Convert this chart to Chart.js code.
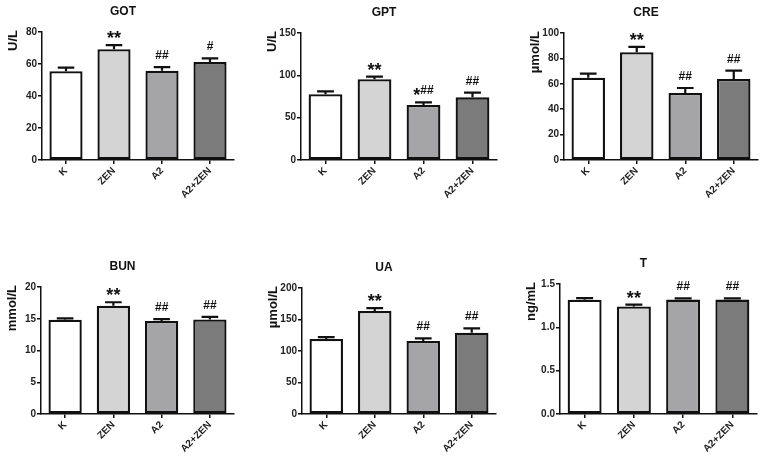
<!DOCTYPE html>
<html>
<head>
<meta charset="utf-8">
<script src="https://cdn.jsdelivr.net/npm/chart.js@4.4.1/dist/chart.umd.min.js"></script>
<style>
  body { margin: 0; background: #fff; width: 764px; height: 461px; position: relative; overflow: hidden; }
  canvas { position: absolute; }
</style>
</head>
<body>
<script>
const groups = ["K", "ZEN", "A2", "A2+ZEN"];

const got = [55.5, 69.2, 55.8, 61.2];
const gotSem = [2.2, 2.6, 2.2, 2.3];
const gotMarks = ["", "**", "##", "#"];

const gpt = [77.6, 95.3, 65, 74];
const gptSem = [3.5, 3.1, 3, 5.5];
const gptMarks = ["", "**", "*##", "##"];

const cre = [64.8, 84.8, 52.8, 63.8];
const creSem = [3.2, 4.3, 3.9, 6.5];
const creMarks = ["", "**", "##", "##"];

const bun = [14.85, 17.05, 14.65, 14.9];
const bunSem = [0.2, 0.55, 0.3, 0.4];
const bunMarks = ["", "**", "##", "##"];

const ua = [119, 163.5, 116, 129];
const uaSem = [3, 4.5, 4, 6.8];
const uaMarks = ["", "**", "##", "##"];

const tst = [1.318, 1.241, 1.32, 1.32];
const tstSem = [0.02, 0.02, 0.015, 0.015];
const tstMarks = ["", "**", "##", "##"];

const fills = ["#ffffff", "#d4d4d4", "#a5a5a8", "#7b7b7b"];

Chart.defaults.font.family = '"Liberation Sans", Arial, sans-serif';
Chart.defaults.font.weight = "bold";
Chart.defaults.color = "#222";

const Y_W = 30;
const X_H = 42;

const panels = [
  { title: "GOT", unit: "U/L", values: got, sem: gotSem, marks: gotMarks, max: 80, step: 20, dec: 0,
    box: [0, 0], area: [42, 234, 32, 160] },
  { title: "GPT", unit: "U/L", values: gpt, sem: gptSem, marks: gptMarks, max: 150, step: 50, dec: 0,
    box: [255, 0], area: [301, 497, 33, 160] },
  { title: "CRE", unit: "µmol/L", values: cre, sem: creSem, marks: creMarks, max: 100, step: 20, dec: 0,
    box: [510, 0], area: [564, 758, 33, 160] },
  { title: "BUN", unit: "mmol/L", values: bun, sem: bunSem, marks: bunMarks, max: 20, step: 5, dec: 0,
    box: [0, 230], area: [41, 234, 287, 414] },
  { title: "UA", unit: "µmol/L", values: ua, sem: uaSem, marks: uaMarks, max: 200, step: 50, dec: 0,
    box: [255, 230], area: [302, 496, 288, 414] },
  { title: "T", unit: "ng/mL", values: tst, sem: tstSem, marks: tstMarks, max: 1.5, step: 0.5, dec: 1,
    box: [510, 230], area: [560, 757, 284, 414] },
];

function drawMark(ctx, text, cx, top) {
  // stars in a bigger font, hashes in a smaller one, centred together
  const parts = text.match(/\*+|#+/g) || [];
  const fonts = parts.map((s) => (s[0] === "*" ? "bold 18px " : "bold 12px ") + Chart.defaults.font.family);
  let total = 0;
  const widths = parts.map((s, i) => {
    ctx.font = fonts[i];
    const w = ctx.measureText(s).width;
    total += w;
    return w;
  });
  let x = cx - total / 2;
  ctx.textAlign = "left";
  ctx.textBaseline = "alphabetic";
  parts.forEach((s, i) => {
    ctx.font = fonts[i];
    ctx.fillText(s, x, s[0] === "*" ? top - 1 : top - 8);
    x += widths[i];
  });
}

function extras(p) {
  return {
    id: "extras",
    afterDraw(chart) {
      const { ctx, chartArea: a, scales } = chart;
      const y = scales.y;
      const meta = chart.getDatasetMeta(0);
      ctx.save();
      ctx.strokeStyle = "#111";
      ctx.fillStyle = "#111";
      ctx.lineWidth = 2.2;
      meta.data.forEach((bar, i) => {
        const base = y.getPixelForValue(p.values[i]);
        const top = y.getPixelForValue(p.values[i] + p.sem[i]);
        const half = bar.width / 4;
        ctx.beginPath();
        ctx.moveTo(bar.x, base);
        ctx.lineTo(bar.x, top);
        ctx.moveTo(bar.x - half, top);
        ctx.lineTo(bar.x + half, top);
        ctx.stroke();
        if (p.marks[i]) drawMark(ctx, p.marks[i], bar.x, top);
      });

      ctx.font = "bold 12px " + Chart.defaults.font.family;
      ctx.textAlign = "center";
      ctx.textBaseline = "middle";
      ctx.fillText(p.title, (a.left + a.right) / 2 - 15, a.top - 20);

      ctx.font = "bold 13px " + Chart.defaults.font.family;
      ctx.translate(a.left - 29, a.top - 2);
      ctx.rotate(-Math.PI / 2);
      ctx.textAlign = "right";
      ctx.fillText(p.unit, 0, 0);
      ctx.restore();
    },
  };
}

panels.forEach((p) => {
  const W = 254, H = 230;
  const canvas = document.createElement("canvas");
  canvas.width = W;
  canvas.height = H;
  canvas.style.left = p.box[0] + "px";
  canvas.style.top = p.box[1] + "px";
  document.body.appendChild(canvas);

  const [l, r, t, b] = p.area;
  new Chart(canvas, {
    type: "bar",
    data: {
      labels: groups,
      datasets: [
        {
          data: p.values,
          backgroundColor: fills,
          borderColor: "#111",
          borderWidth: 2.3,
          borderSkipped: false,
          categoryPercentage: 1,
          barPercentage: 0.69,
        },
      ],
    },
    options: {
      responsive: false,
      animation: false,
      events: [],
      layout: {
        padding: {
          left: l - p.box[0] - Y_W,
          right: p.box[0] + W - r,
          top: t - p.box[1],
          bottom: p.box[1] + H - b - X_H,
        },
      },
      plugins: { legend: { display: false }, tooltip: { enabled: false } },
      scales: {
        x: {
          afterFit: (s) => { s.height = X_H; },
          grid: { offset: false, drawOnChartArea: false, tickLength: 4, color: "#111", lineWidth: 1.5 },
          border: { color: "#111", width: 1.5 },
          ticks: { minRotation: 45, maxRotation: 45, padding: 1, font: { size: 10, weight: "bold" }, color: "#222" },
        },
        y: {
          min: 0,
          max: p.max,
          afterFit: (s) => { s.width = Y_W; },
          grid: { drawOnChartArea: false, tickLength: 4, color: "#111", lineWidth: 1.5 },
          border: { color: "#111", width: 1.5 },
          ticks: {
            stepSize: p.step,
            padding: 1,
            font: { size: 10, weight: "bold" },
            color: "#222",
            callback: (v) => Number(v).toFixed(p.dec),
          },
        },
      },
    },
    plugins: [extras(p)],
  });
});
</script>
</body>
</html>
